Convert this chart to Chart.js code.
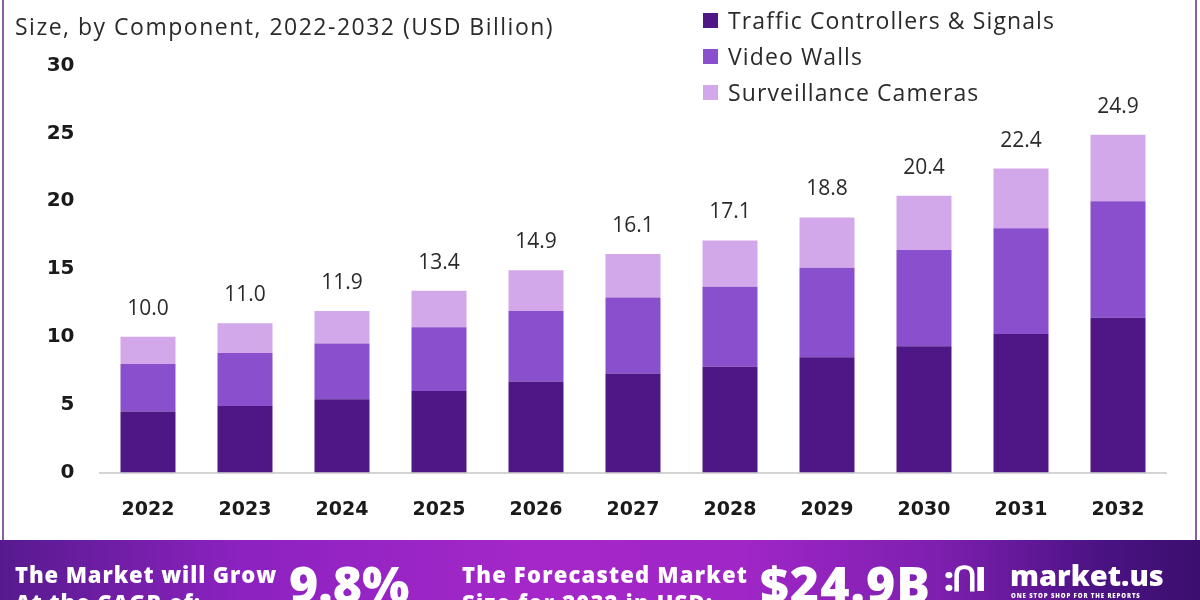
<!DOCTYPE html>
<html>
<head>
<meta charset="utf-8">
<script src="https://cdn.jsdelivr.net/npm/chart.js@4.4.1/dist/chart.umd.min.js"></script>
<style>
  html,body{margin:0;padding:0;background:#fff;}
  body{width:1200px;height:600px;position:relative;overflow:hidden;font-family:"Open Sans",sans-serif;}
  #frame{position:absolute;left:2px;top:-2px;width:1195px;height:542px;border-left:2px solid #8d5ca6;border-right:2px solid #8d5ca6;box-sizing:border-box;}
  #wrap{position:absolute;left:0;top:0;width:1200px;height:540px;}
  #title{position:absolute;left:15px;top:10px;font-size:23px;color:#2a2a2a;white-space:nowrap;letter-spacing:1.5px;}
  #legend{position:absolute;left:703px;top:2px;}
  .li{height:36px;display:flex;align-items:center;font-size:23px;color:#2a2a2a;white-space:nowrap;letter-spacing:1.1px;}
  .sw{width:15px;height:15px;margin-right:10px;display:inline-block;}
  #banner{position:absolute;left:0;top:540px;width:1200px;height:60px;
    background:linear-gradient(90deg,#571a8e 0%,#8c22c0 20%,#a527c9 45%,#a026c6 62%,#7e1fb0 78%,#4a1282 92%,#3b0f6e 100%);
    color:#fff;font-weight:800;}
  .bt{position:absolute;white-space:nowrap;}
</style>
</head>
<body>
<div id="wrap"><canvas id="c" width="1200" height="540"></canvas></div>
<div id="frame"></div>
<div id="title">Size, by Component, 2022-2032 (USD Billion)</div>
<div id="legend"></div>
<div id="banner">
  <div class="bt" style="left:15px;top:20px;font-size:22px;line-height:28px;letter-spacing:0.9px;">The Market will Grow<br>At the CAGR of:</div>
  <div class="bt" style="left:289px;top:14px;font-size:50px;line-height:60px;">9.8%</div>
  <div class="bt" style="left:462px;top:20px;font-size:22px;line-height:28px;letter-spacing:1.2px;">The Forecasted Market<br>Size for 2032 in USD:</div>
  <div class="bt" style="left:760px;top:14px;font-size:50px;line-height:60px;letter-spacing:1px;">$24.9B</div>
  <div class="bt" style="left:944px;top:20px;font-size:34px;line-height:36px;letter-spacing:-2px;">:ՈI</div>
  <div class="bt" style="left:1010px;top:19px;font-size:29px;line-height:32px;">market.us</div>
  <div class="bt" style="left:1011px;top:53px;font-size:6px;line-height:7px;letter-spacing:0.9px;">ONE STOP SHOP FOR THE REPORTS</div>
</div>
<script>
const years = ["2022","2023","2024","2025","2026","2027","2028","2029","2030","2031","2032"];
const trafficControllers = [4.5, 4.9, 5.4, 6.0, 6.7, 7.3, 7.8, 8.5, 9.3, 10.2, 11.4];
const videoWalls        = [3.5, 3.9, 4.1, 4.7, 5.2, 5.6, 5.9, 6.6, 7.1, 7.8, 8.6];
const surveillance      = [2.0, 2.2, 2.4, 2.7, 3.0, 3.2, 3.4, 3.7, 4.0, 4.4, 4.9];
const totals            = [10.0, 11.0, 11.9, 13.4, 14.9, 16.1, 17.1, 18.8, 20.4, 22.4, 24.9];
const seriesNames = ["Traffic Controllers & Signals", "Video Walls", "Surveillance Cameras"];
const seriesColors = ["#4e1785", "#8a4fcc", "#d3a8ea"];
const yTicks = [0, 5, 10, 15, 20, 25, 30];

const lg = document.getElementById('legend');
seriesNames.forEach((n,i)=>{
  const d=document.createElement('div');d.className='li';
  d.innerHTML='<span class="sw" style="background:'+seriesColors[i]+'"></span>'+n.replace('&','&amp;');
  lg.appendChild(d);
});

const totalLabels = {
  id:'totalLabels',
  afterDatasetsDraw(chart){
    const ctx=chart.ctx;
    const meta=chart.getDatasetMeta(2);
    ctx.save();
    ctx.font='21px "Open Sans"';
    ctx.fillStyle='#2a2a2a';
    ctx.textAlign='center';
    ctx.textBaseline='middle';
    meta.data.forEach((bar,i)=>{
      ctx.fillText(totals[i].toFixed(1), bar.x, bar.y-28);
    });
    ctx.restore();
  }
};

new Chart(document.getElementById('c'),{
  type:'bar',
  data:{
    labels:years,
    datasets:[
      {label:seriesNames[0],data:trafficControllers,backgroundColor:seriesColors[0]},
      {label:seriesNames[1],data:videoWalls,backgroundColor:seriesColors[1]},
      {label:seriesNames[2],data:surveillance,backgroundColor:seriesColors[2]}
    ]
  },
  options:{
    responsive:false,
    animation:false,
    events:[],
    layout:{padding:{left:0,right:33.5,top:65.5,bottom:0}},
    plugins:{legend:{display:false},tooltip:{enabled:false}},
    datasets:{bar:{barPercentage:0.567,categoryPercentage:1.0,borderWidth:0}},
    scales:{
      x:{
        stacked:true,
        grid:{display:false,drawTicks:false},
        border:{display:true,color:'#d4d4d4',width:2},
        ticks:{padding:26,color:'#1a1a1a',font:{family:'"DejaVu Sans"',size:19,weight:'bold'}},
        afterFit(s){s.height=67.5;}
      },
      y:{
        stacked:true,
        min:0,max:30,
        afterBuildTicks(s){s.ticks=yTicks.map(v=>({value:v}));},
        grid:{display:false,drawTicks:false},
        border:{display:false},
        ticks:{padding:25,color:'#1a1a1a',font:{family:'"DejaVu Sans"',size:20,weight:'bold'}},
        afterFit(s){s.width=99.5;}
      }
    }
  },
  plugins:[totalLabels]
});
</script>
</body>
</html>
